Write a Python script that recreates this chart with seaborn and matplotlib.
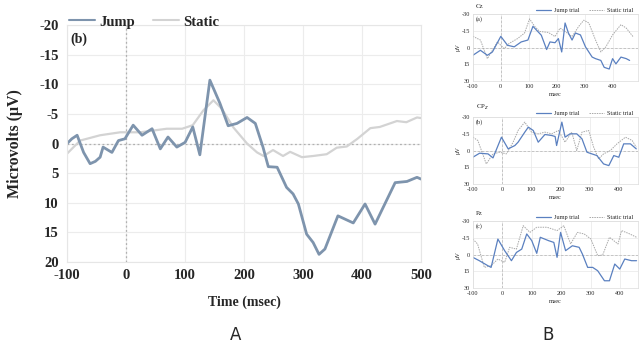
import numpy as np
import pandas as pd
import matplotlib.pyplot as plt
import seaborn as sns
from matplotlib.lines import Line2D

# ---- main panel (A) data: time (msec) and amplitude (uV) ----
jump_t = [-100, -92, -83, -72, -61, -52, -44, -39, -24, -13, -2, 12, 27, 44, 58, 71, 86, 100,
          113, 125, 142, 159, 173, 188, 205, 219, 232, 241, 256, 272, 283, 292, 306, 317,
          327, 337, 359, 385, 405, 422, 456, 476, 493, 500]
jump_v = [0.0, -0.8, -1.4, 1.5, 3.4, 3.0, 2.3, 0.6, 1.5, -0.5, -0.8, -3.1, -1.4, -2.5, 0.9, -1.1,
          0.6, -0.2, -2.8, 1.9, -10.7, -6.8, -3.0, -3.4, -4.4, -3.4, 0.6, 3.9, 4.0, 7.4,
          8.5, 10.2, 15.3, 16.7, 18.7, 17.8, 12.2, 13.4, 10.2, 13.6, 6.6, 6.4, 5.7, 6.0]

static_t = [-100, -78, -44, -10, 24, 69, 95, 113, 131, 148, 162, 182, 205, 222, 233, 249,
            266, 278, 298, 317, 340, 357, 374, 392, 414, 430, 459, 475, 493, 500]
static_v = [1.7, -0.5, -1.4, -1.9, -1.9, -2.5, -2.5, -3.1, -5.6, -7.3, -5.9, -2.7, 0.0, 1.5,
            2.1, 1.1, 2.1, 1.4, 2.3, 2.1, 1.8, 0.7, 0.5, -0.8, -2.6, -2.8, -3.8, -3.6, -4.4, -4.3]

# ---- panel B data ----
cz_jump_t = [-100, -73, -48, -30, 0, 24, 48, 73, 97, 115, 145, 164, 176, 194, 206, 218, 230,
             242, 255, 267, 285, 303, 327, 339, 358, 370, 388, 400, 412, 430, 449, 461]
cz_jump_v = [7, 2.5, 7, 4, -10, -2, -0.6, -5, -6.7, -19, -11, 1.8, -5, -4.3, -8, 4, -22,
             -13, -6.7, -13, -11.3, -0.6, 8.6, 10, 11.6, 17.8, 19.3, 10, 14.7, 8.6, 10, 11.6]
cz_static_t = [-100, -73, -48, -12, 12, 30, 60, 85, 103, 121, 139, 170, 194, 212, 230, 255,
               279, 297, 315, 339, 358, 376, 400, 430, 449, 473]
cz_static_v = [-10, -6.7, 10, -5, 1, -3.7, -8, -13, -25.7, -19, -14.4, -13.5, -9.8, -17.4,
               -14.4, -9.8, -19, -24.5, -22, -6.7, 4, -0.6, -11.3, -20.5, -17.4, -9.8]

cp_jump_t = [-100, -77, -48, -31, -2, 21, 44, 55, 78, 90, 107, 124, 147, 170, 182, 187, 205,
             216, 233, 256, 274, 291, 308, 325, 348, 366, 383, 400, 417, 440, 460]
cp_jump_v = [6, 2.4, 3, 6.6, -12, -1.5, -4.5, -7.5, -16.5, -21, -18, -7.5, -14.4, -13.5,
             -12.6, -4.5, -25.5, -12, -15, -15, -10.5, 1.5, 3, 4.5, 12, 13.5, 4.5, 6, -6, -6, -1.5]
cp_static_t = [-100, -83, -54, -31, -8, 15, 38, 55, 78, 101, 124, 147, 170, 193, 216, 239,
               256, 274, 297, 314, 331, 348, 371, 394, 423, 446, 460]
cp_static_v = [-12, -9, 12, 3, 1.5, 3, -7.5, -18, -25.5, -16.5, -15, -16.5, -15, -18, -7.5,
               -16.5, 0, -16.5, -18, -3, 7.5, 3, 0, -6, -12, -9, -3]

pz_jump_t = [-100, -78, -49, -38, -15, 8, 31, 48, 66, 83, 100, 117, 129, 157, 175, 186, 198,
             215, 238, 261, 272, 290, 307, 324, 347, 364, 382, 399, 416, 439, 456]
pz_jump_v = [2.4, 5.4, 9.9, 11.4, -14, -3.6, 5.4, -2, -5, -18.6, -12.6, -1.2, -15.6, -12.6,
             -11, 2.4, -20, -3.6, -8, -6.6, -0.6, 11.4, 11.4, 14.4, 23.4, 23.4, 8.4, 12.9, 3.9, 5.4, 5.4]
pz_static_t = [-100, -84, -61, -38, -15, 8, 25, 48, 71, 94, 117, 152, 186, 209, 232, 255, 278,
               301, 324, 341, 364, 393, 405, 433, 456]
pz_static_v = [-14, -9.6, 11.4, 9.9, 3.9, 6.9, -6.6, -5, -26, -20, -24.6, -24.6, -21.6, -26,
               -9.6, -20, -18.6, -14, 0.9, 0.3, -15.6, -9.6, -21.6, -18.6, -15.6]

b_names = ["Cz", "CP$_z$", "Pz"]
b_tags = ["(a)", "(b)", "(c)"]
b_data = [(cz_jump_t, cz_jump_v, cz_static_t, cz_static_v),
          (cp_jump_t, cp_jump_v, cp_static_t, cp_static_v),
          (pz_jump_t, pz_jump_v, pz_static_t, pz_static_v)]
b_xmax = [490, 465, 460]

sns.set_style("whitegrid")
plt.rcParams["font.family"] = ["Liberation Serif", "DejaVu Serif"]
plt.rcParams["axes.unicode_minus"] = False
plt.rcParams["lines.solid_joinstyle"] = "round"

fig = plt.figure(figsize=(6.39, 3.43), dpi=100)

# ================= panel A =================
ax = fig.add_axes([0.105, 0.236, 0.554, 0.691])
jump_col = "#7e94ad"
static_col = "#d3d3d3"
sns.lineplot(x=static_t, y=static_v, ax=ax, color=static_col, lw=1.6, sort=False, estimator=None)
sns.lineplot(x=jump_t, y=jump_v, ax=ax, color=jump_col, lw=2.0, sort=False, estimator=None)
ax.axhline(0, color="#b0b0b0", ls=(0, (1.5, 2)), lw=0.9, zorder=1)
ax.axvline(0, color="#b0b0b0", ls=(0, (1.5, 2)), lw=0.9, zorder=1)
ax.set_xlim(-100, 500)
ax.set_ylim(20, -20)
ax.set_xticks(np.arange(-100, 501, 100))
ax.set_yticks(np.arange(-20, 21, 5))
ax.grid(color="#ececec", lw=0.8)
for s in ax.spines.values():
    s.set_color("#e6e6e6")
ax.tick_params(length=0, labelsize=10.5)
ax.tick_params(axis="x", pad=5)
ax.tick_params(axis="y", pad=6)
for lab in ax.get_xticklabels() + ax.get_yticklabels():
    lab.set_fontweight("bold")
ax.set_xlabel("Time (msec)", fontsize=10, fontweight="bold", labelpad=10)
ax.set_ylabel("Microvolts (\u03bcV)", fontsize=11.5, fontweight="bold", labelpad=12)
ax.text(0.01, 0.97, "(b)", transform=ax.transAxes, fontsize=10, fontweight="bold",
        va="top", ha="left")
handles = [Line2D([], [], color=jump_col, lw=1.5), Line2D([], [], color=static_col, lw=1.5)]
ax.legend(handles, ["Jump", "Static"], loc="lower left", bbox_to_anchor=(0.005, 0.985),
          ncol=2, frameon=False, prop={"weight": "bold", "size": 10.5},
          handlelength=1.8, handletextpad=0.3, columnspacing=1.2, borderaxespad=0, borderpad=0)
fig.text(0.369, 0.01, "A", fontsize=12, family="DejaVu Sans", ha="center")

# ================= panel B =================
bottoms = [0.764, 0.4636, 0.160]
for i in range(3):
    jt, jv, st, sv = b_data[i]
    bx = fig.add_axes([0.740, bottoms[i], 0.258, 0.195])
    sns.lineplot(x=st, y=sv, ax=bx, color="#a8a8a8", lw=0.7, ls=(0, (1.5, 1)),
                 sort=False, estimator=None)
    sns.lineplot(x=jt, y=jv, ax=bx, color="#5a80c0", lw=0.9, sort=False, estimator=None)
    bx.axhline(0, color="#bdbdbd", ls=(0, (3, 2)), lw=0.6, zorder=1)
    bx.axvline(0, color="#bdbdbd", ls=(0, (3, 2)), lw=0.6, zorder=1)
    bx.set_xlim(-100, b_xmax[i])
    bx.set_ylim(30, -30)
    bx.set_xticks(np.arange(-100, 401, 100))
    bx.set_yticks([-30, -15, 0, 15, 30])
    bx.grid(color="#e8e8e8", lw=0.5)
    for s in bx.spines.values():
        s.set_color("#dcdcdc")
        s.set_linewidth(0.5)
    bx.tick_params(length=0, labelsize=4.5, pad=2)
    bx.set_xlabel("msec", fontsize=4.5, labelpad=2)
    bx.set_ylabel("\u03bcV", fontsize=4.5, labelpad=1)
    bx.text(0.02, 1.08, b_names[i], transform=bx.transAxes, fontsize=5, va="bottom")
    bx.text(0.02, 0.97, b_tags[i], transform=bx.transAxes, fontsize=4.5, va="top")
    bh = [Line2D([], [], color="#5a80c0", lw=0.9),
          Line2D([], [], color="#a8a8a8", lw=0.7, ls=(0, (1.5, 1)))]
    bx.legend(bh, ["Jump trial", "Static trial"], loc="lower right", bbox_to_anchor=(0.98, 1.0),
              ncol=2, frameon=False, fontsize=4.5, handlelength=2.5, handletextpad=0.4,
              columnspacing=1.5, borderaxespad=0.2, borderpad=0)
fig.text(0.858, 0.01, "B", fontsize=12, family="DejaVu Sans", ha="center")

fig.savefig("out.png", dpi=100)
